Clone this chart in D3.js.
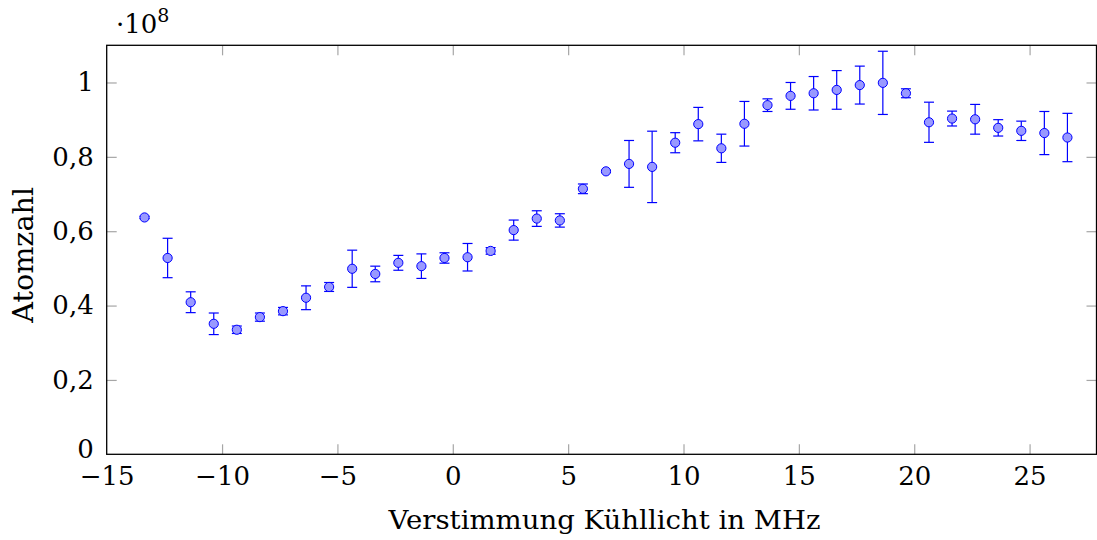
<!DOCTYPE html>
<html>
<head>
<meta charset="utf-8">
<script src="https://cdn.jsdelivr.net/npm/d3@7"></script>
<style>
  html, body { margin: 0; padding: 0; background: #fff; }
  text { font-family: "DejaVu Serif", serif; fill: #000; }
</style>
</head>
<body>
<svg id="chart" width="1097" height="540"></svg>
<script>
// Detuning of cooling light in MHz
const detuning = [-13.36, -12.36, -11.36, -10.36, -9.36, -8.36, -7.36, -6.36, -5.36, -4.36,
  -3.36, -2.36, -1.36, -0.36, 0.64, 1.64, 2.64, 3.64, 4.64, 5.64,
  6.64, 7.64, 8.64, 9.64, 10.64, 11.64, 12.64, 13.64, 14.64, 15.64,
  16.64, 17.64, 18.64, 19.64, 20.64, 21.64, 22.64, 23.64, 24.64, 25.64, 26.64];
// Atom number (x 1e8)
const atoms = [0.637, 0.528, 0.409, 0.351, 0.335, 0.369, 0.385, 0.421, 0.450, 0.499,
  0.485, 0.515, 0.506, 0.528, 0.530, 0.547, 0.603, 0.634, 0.629, 0.714,
  0.761, 0.781, 0.773, 0.838, 0.888, 0.823, 0.889, 0.939, 0.964, 0.971,
  0.980, 0.993, 0.999, 0.971, 0.893, 0.903, 0.901, 0.878, 0.870, 0.864, 0.852];
// Error (x 1e8)
const atomsErr = [0.003, 0.053, 0.028, 0.029, 0.010, 0.011, 0.010, 0.032, 0.012, 0.050,
  0.021, 0.020, 0.033, 0.014, 0.037, 0.009, 0.027, 0.021, 0.018, 0.013,
  0.003, 0.063, 0.096, 0.027, 0.045, 0.038, 0.060, 0.017, 0.036, 0.045,
  0.052, 0.051, 0.085, 0.012, 0.054, 0.020, 0.040, 0.022, 0.026, 0.058, 0.065];
const xTicks = [-15, -10, -5, 0, 5, 10, 15, 20, 25];
const yTicks = [0, 0.2, 0.4, 0.6, 0.8, 1];
const xLabel = "Verstimmung Kühllicht in MHz";
const yLabel = "Atomzahl";

const data = detuning.map((d, i) => ({ x: d, y: atoms[i], e: atomsErr[i] }));

const L = 106.7, R = 1096.5, T = 45.3, B = 454.3;
const x = d3.scaleLinear().domain([-15, 27.9]).range([L, R]);
const y = d3.scaleLinear().domain([0, 1.1]).range([B, T]);

const svg = d3.select("#chart");
const fmt = v => (v === 0 ? "0" : v === 1 ? "1" : d3.format(".1f")(v).replace(".", ","));
const fontSize = 26;
const tickLen = 10;
const tickColor = "#a6a6a6";
const serif = '"DejaVu Serif", serif';

// ticks on all sides (inward)
const gx = svg.append("g").attr("transform", `translate(0,${B})`)
  .call(d3.axisBottom(x).tickValues(xTicks).tickSize(-tickLen).tickPadding(14)
    .tickFormat(d => d < 0 ? "\u2212" + Math.abs(d) : String(d)));
const gxt = svg.append("g").attr("transform", `translate(0,${T})`)
  .call(d3.axisTop(x).tickValues(xTicks).tickSize(-tickLen).tickFormat(""));
const gy = svg.append("g").attr("transform", `translate(${L},0)`)
  .call(d3.axisLeft(y).tickValues(yTicks).tickSize(-tickLen).tickPadding(13).tickFormat(fmt));
const gyr = svg.append("g").attr("transform", `translate(${R},0)`)
  .call(d3.axisRight(y).tickValues(yTicks).tickSize(-tickLen).tickFormat(""));

[gx, gxt, gy, gyr].forEach(g => {
  g.select(".domain").remove();
  g.selectAll(".tick line").attr("stroke", tickColor).attr("stroke-width", 1.2);
  g.selectAll(".tick text").style("font-family", serif)
    .style("font-size", fontSize + "px").attr("fill", "#000");
});
gx.selectAll(".tick text").attr("dy", "0.66em");
gy.selectAll(".tick").filter(d => d === 0).select("text").attr("dy", "0.12em");
// hide ticks at corners where they would coincide with the frame
gx.selectAll(".tick").filter(d => d === -15).select("line").remove();
gxt.selectAll(".tick").filter(d => d === -15).select("line").remove();
gy.selectAll(".tick").filter(d => d === 0).select("line").remove();
gyr.selectAll(".tick").filter(d => d === 0).select("line").remove();

// frame
svg.append("rect").attr("x", L).attr("y", T).attr("width", R - L).attr("height", B - T)
  .attr("fill", "none").attr("stroke", "#000").attr("stroke-width", 1.3);

// error bars
const blue = "#0000ff";
const eb = svg.append("g").attr("stroke", blue).attr("stroke-width", 1.2).attr("fill", "none");
const cap = 5;
data.forEach(d => {
  const cx = x(d.x), y1 = y(d.y + d.e), y2 = y(d.y - d.e);
  eb.append("line").attr("x1", cx).attr("x2", cx).attr("y1", y1).attr("y2", y2);
  eb.append("line").attr("x1", cx - cap).attr("x2", cx + cap).attr("y1", y1).attr("y2", y1);
  eb.append("line").attr("x1", cx - cap).attr("x2", cx + cap).attr("y1", y2).attr("y2", y2);
});

// markers
svg.append("g").selectAll("circle").data(data).join("circle")
  .attr("cx", d => x(d.x)).attr("cy", d => y(d.y)).attr("r", 4.6)
  .attr("fill", "#9999ff").attr("stroke", blue).attr("stroke-width", 1);

// axis labels
svg.append("text").attr("x", (L + R) / 2 + 3).attr("y", 529).attr("text-anchor", "middle")
  .style("font-size", fontSize + "px").attr("textLength", 432).attr("lengthAdjust", "spacingAndGlyphs")
  .text(xLabel);
svg.append("text").attr("transform", `translate(33,${(T + B) / 2 + 5}) rotate(-90)`)
  .attr("text-anchor", "middle").style("font-size", "27px")
  .attr("textLength", 136).attr("lengthAdjust", "spacingAndGlyphs").text(yLabel);

// scale factor
const sf = svg.append("text").attr("x", 116).attr("y", 33).style("font-size", fontSize + "px");
sf.append("tspan").text("\u00b710");
sf.append("tspan").attr("dy", -11).style("font-size", "19px").text("8");
</script>
</body>
</html>
